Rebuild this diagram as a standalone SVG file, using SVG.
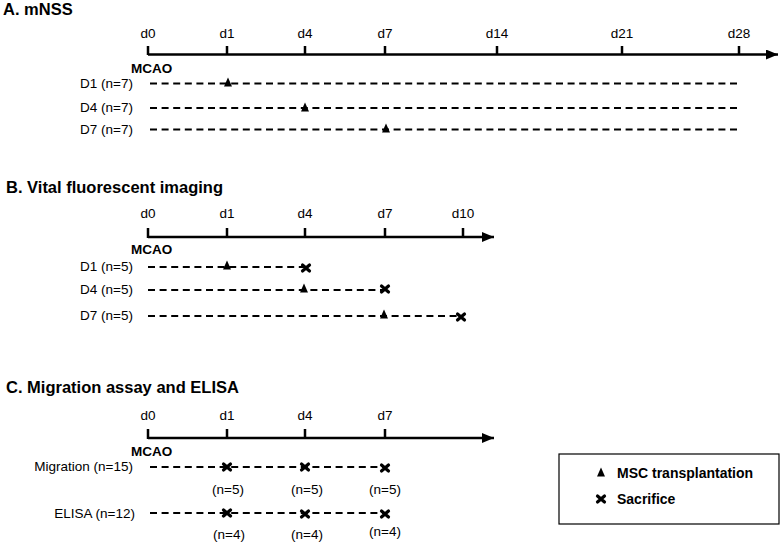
<svg xmlns="http://www.w3.org/2000/svg" width="780" height="543" viewBox="0 0 780 543">
<defs>
<style>
text{font-family:"Liberation Sans",Arial,sans-serif;fill:#000}
.title{font-size:16.5px;font-weight:bold}
.tick{font-size:13.5px;text-anchor:middle}
.mcao{font-size:13.5px;font-weight:bold}
.row{font-size:13.5px;text-anchor:end}
.axis{stroke:#000;stroke-width:2.5;fill:none}
.tk{stroke:#000;stroke-width:2.5}
.dash{stroke:#000;stroke-width:1.8;stroke-dasharray:7 4.6;fill:none}
.leg{font-size:14px;font-weight:bold}
</style>
<marker id="ah" viewBox="0 0 12 10" refX="12" refY="5" markerWidth="12" markerHeight="10" markerUnits="userSpaceOnUse" orient="auto"><path d="M0,0 L12,5 L0,10 Z" fill="#000"/></marker>
<path id="tri" d="M0,-8.5 L4,0.5 L-4,0.5 Z" fill="#000"/>
<g id="xm"><path d="M-3.5,-3 L3.5,3 M-3.5,3 L3.5,-3" stroke="#000" stroke-width="3.2" stroke-linecap="round"/></g>
</defs>

<g id="panelA">
<text class="title" x="3" y="15">A. mNSS</text>
<g class="tick-labels">
<text class="tick" x="148" y="38">d0</text>
<text class="tick" x="227" y="38">d1</text>
<text class="tick" x="305" y="38">d4</text>
<text class="tick" x="385" y="38">d7</text>
<text class="tick" x="497" y="38">d14</text>
<text class="tick" x="622" y="38">d21</text>
<text class="tick" x="739" y="38">d28</text>
</g>
<line class="axis" x1="148" y1="54.5" x2="778" y2="54.5" marker-end="url(#ah)"/>
<path class="tk" d="M148,46 V55 M227,46 V55 M305,46 V55 M385,46 V55 M497,46 V55 M622,46 V55 M739,46 V55"/>
<text class="mcao" x="131" y="73">MCAO</text>
<text class="row" x="133" y="88">D1 (n=7)</text>
<text class="row" x="133" y="112">D4 (n=7)</text>
<text class="row" x="133" y="134">D7 (n=7)</text>
</g>

<g id="panelB">
<text class="title" x="6" y="193">B. Vital fluorescent imaging</text>
<text class="tick" x="148" y="218">d0</text>
<text class="tick" x="227" y="218">d1</text>
<text class="tick" x="305" y="218">d4</text>
<text class="tick" x="385" y="218">d7</text>
<text class="tick" x="463" y="218">d10</text>
<line class="axis" x1="148" y1="237" x2="494" y2="237" marker-end="url(#ah)"/>
<path class="tk" d="M148,228 V238 M227,228 V238 M305,228 V238 M385,228 V238 M463,228 V238"/>
<text class="mcao" x="131" y="254">MCAO</text>
<text class="row" x="133" y="271">D1 (n=5)</text>
<text class="row" x="133" y="294">D4 (n=5)</text>
<text class="row" x="133" y="320">D7 (n=5)</text>
</g>

<g id="panelC">
<text class="title" x="6" y="393">C. Migration assay and ELISA</text>
<text class="tick" x="148" y="420">d0</text>
<text class="tick" x="227" y="420">d1</text>
<text class="tick" x="305" y="420">d4</text>
<text class="tick" x="385" y="420">d7</text>
<line class="axis" x1="148" y1="438" x2="494" y2="438" marker-end="url(#ah)"/>
<path class="tk" d="M148,429 V439 M227,429 V439 M305,429 V439 M385,429 V439"/>
<text class="mcao" x="131" y="456">MCAO</text>
<text class="row" x="133" y="471">Migration (n=15)</text>
<text class="row" x="135" y="518">ELISA (n=12)</text>
<text class="tick" x="228" y="494">(n=5)</text>
<text class="tick" x="307" y="494">(n=5)</text>
<text class="tick" x="385" y="494">(n=5)</text>
<text class="tick" x="229" y="539">(n=4)</text>
<text class="tick" x="307" y="539">(n=4)</text>
<text class="tick" x="385" y="536">(n=4)</text>
</g>

<g id="connectors">
<line class="dash" x1="150" y1="83.5" x2="740" y2="83.5"/>
<line class="dash" x1="150" y1="108" x2="740" y2="108"/>
<line class="dash" x1="150" y1="129.5" x2="740" y2="129.5"/>
<line class="dash" x1="148" y1="267" x2="305" y2="267"/>
<line class="dash" x1="148" y1="290" x2="385" y2="290"/>
<line class="dash" x1="148" y1="316" x2="463" y2="316"/>
<line class="dash" x1="150" y1="467" x2="385" y2="467"/>
<line class="dash" x1="150" y1="513" x2="385" y2="513"/>
</g>

<g id="markers">
<use href="#tri" x="228" y="86"/>
<use href="#tri" x="305" y="111"/>
<use href="#tri" x="386" y="132"/>
<use href="#tri" x="227" y="269"/>
<use href="#xm" x="306" y="268"/>
<use href="#tri" x="304" y="292"/>
<use href="#xm" x="385" y="289"/>
<use href="#tri" x="384" y="318"/>
<use href="#xm" x="461" y="317"/>
<use href="#xm" x="227" y="467"/>
<use href="#xm" x="305" y="467"/>
<use href="#xm" x="385" y="468"/>
<use href="#xm" x="227" y="513"/>
<use href="#xm" x="305" y="514"/>
<use href="#xm" x="385" y="514"/>
</g>

<g id="legend">
<rect x="559" y="454" width="220" height="70" fill="#fff" stroke="#000" stroke-width="1.2"/>
<use href="#tri" x="601" y="476"/>
<text class="leg" x="617" y="478">MSC transplantation</text>
<use href="#xm" x="601" y="499"/>
<text class="leg" x="617" y="504">Sacrifice</text>
</g>
</svg>
